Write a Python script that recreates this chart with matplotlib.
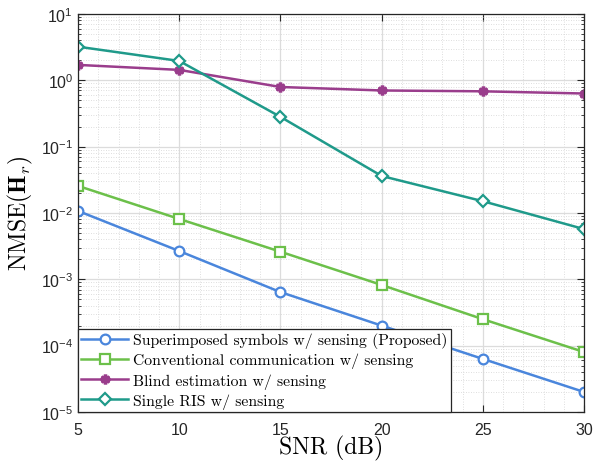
import numpy as np
import matplotlib
matplotlib.use("Agg")
import matplotlib.pyplot as plt
from matplotlib.ticker import LogLocator, MultipleLocator, NullFormatter

plt.rcParams['font.family'] = ['Liberation Sans', 'DejaVu Sans']
plt.rcParams['mathtext.fontset'] = 'cm'

snr = [5, 10, 15, 20, 25, 30]
nmse_proposed = [1.07e-2, 2.66e-3, 6.4e-4, 2.0e-4, 6.3e-5, 2.0e-5]
nmse_conventional = [2.55e-2, 8.1e-3, 2.6e-3, 8.2e-4, 2.5e-4, 8.0e-5]
nmse_blind = [1.7, 1.43, 0.79, 0.70, 0.68, 0.63]
nmse_single_ris = [3.2, 1.95, 0.28, 0.036, 0.015, 0.0057]

labels = [
    'Superimposed symbols w/ sensing (Proposed)',
    'Conventional communication w/ sensing',
    'Blind estimation w/ sensing',
    'Single RIS w/ sensing',
]

fig = plt.figure(figsize=(5.96, 4.64), dpi=100)
ax = fig.add_axes([0.131, 0.110, 0.849, 0.858])

lw = 1.8
ax.plot(snr, nmse_proposed, color='#4a86dc', lw=lw, marker='o', ms=7,
        mfc='white', mec='#4a86dc', mew=1.6, label=labels[0])
ax.plot(snr, nmse_conventional, color='#6cc04a', lw=lw, marker='s', ms=6.5,
        mfc='white', mec='#6cc04a', mew=1.6, label=labels[1])
ax.plot(snr, nmse_blind, color='#9a3d8c', lw=lw, marker=(6, 2, 0), ms=7,
        mec='#9a3d8c', mew=2.5, label=labels[2])
ax.plot(snr, nmse_single_ris, color='#1f9a8a', lw=lw, marker='D', ms=6.5,
        mfc='white', mec='#1f9a8a', mew=1.6, label=labels[3])

ax.set_yscale('log')
ax.set_xlim(5, 30)
ax.set_ylim(1e-5, 10)
ax.xaxis.set_major_locator(MultipleLocator(5))
ax.xaxis.set_minor_locator(MultipleLocator(1))
ax.yaxis.set_major_locator(LogLocator(base=10, numticks=10))
ax.yaxis.set_minor_locator(LogLocator(base=10, subs=np.arange(2, 10), numticks=20))
ax.yaxis.set_minor_formatter(NullFormatter())

ax.grid(which='major', color='#dcdcdc', lw=0.9, ls='-')
ax.grid(which='minor', color='#d4d4d4', lw=0.6, ls=(0, (1, 2)))
ax.set_axisbelow(True)

ax.tick_params(which='both', direction='in', top=True, right=True,
               labelsize=11.5, colors='#262626')
ax.tick_params(which='major', length=5, width=0.8)
ax.tick_params(which='minor', length=2.5, width=0.6)
ax.tick_params(axis='x', which='minor', length=0)
ax.tick_params(axis='x', pad=7)
for s in ax.spines.values():
    s.set_color('#262626')
    s.set_linewidth(0.9)

ax.set_xlabel('SNR (dB)', fontsize=17, family='cmr10', labelpad=-1)
ax.set_ylabel(r'NMSE($\mathbf{H}_r$)', fontsize=17, family='cmr10', labelpad=4)

leg = ax.legend(loc='lower left', prop={'family': 'cmr10', 'size': 11.3},
                frameon=True, fancybox=False, borderpad=0.2, labelspacing=0.3,
                handlelength=3.0, handletextpad=0.3, borderaxespad=0.0)
leg.get_frame().set_edgecolor('#262626')
leg.get_frame().set_linewidth(0.9)
leg.get_frame().set_alpha(1)

fig.savefig('out.png', dpi=100)
